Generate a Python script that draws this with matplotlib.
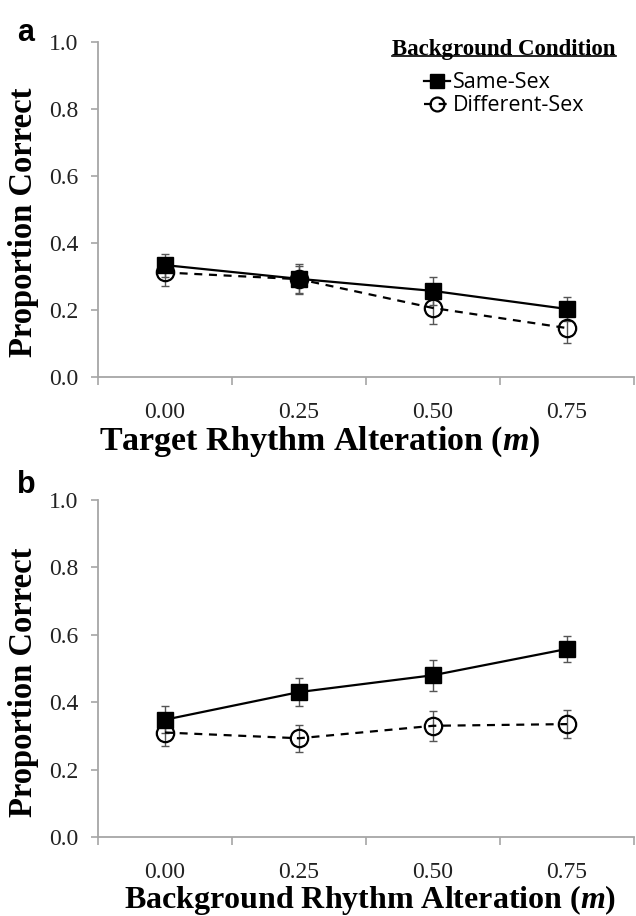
import numpy as np
import matplotlib.pyplot as plt
from matplotlib.lines import Line2D

plt.rcParams['mathtext.fontset'] = 'custom'
plt.rcParams['mathtext.rm'] = 'Liberation Serif'
plt.rcParams['mathtext.bf'] = 'Liberation Serif:bold'
plt.rcParams['mathtext.bfit'] = 'Liberation Serif:italic:bold'

levels = ['0.00', '0.25', '0.50', '0.75']

# panel a: target rhythm alteration
a_same = [0.334, 0.293, 0.257, 0.203]
a_same_err = [0.034, 0.045, 0.043, 0.036]
a_diff = [0.312, 0.292, 0.206, 0.146]
a_diff_err = [0.041, 0.040, 0.048, 0.045]

# panel b: background rhythm alteration
b_same = [0.348, 0.430, 0.480, 0.558]
b_same_err = [0.040, 0.042, 0.046, 0.038]
b_diff = [0.310, 0.293, 0.330, 0.335]
b_diff_err = [0.040, 0.040, 0.045, 0.042]

W, H = 636, 916
fig = plt.figure(figsize=(W / 100, H / 100), dpi=100)
ax_a = fig.add_axes([98 / W, 1 - 377 / H, 536 / W, 335 / H])
ax_b = fig.add_axes([98 / W, 1 - 837 / H, 536 / W, 337 / H])

axis_grey = '#a6a6a6'
serif = 'Liberation Serif'


def draw(ax, same, same_err, diff, diff_err):
    x = np.arange(len(levels))
    ax.errorbar(x, diff, yerr=diff_err, fmt='none', ecolor='#555555',
                elinewidth=1, capsize=3, capthick=1, zorder=2)
    ax.errorbar(x, same, yerr=same_err, fmt='none', ecolor='#555555',
                elinewidth=1, capsize=3, capthick=1, zorder=2)
    ax.plot(x, diff, ls=(0, (3.6, 3)), color='black', lw=1.6, marker='o',
            ms=12.5, mfc='none', mec='black', mew=1.6, zorder=3,
            label='Different-Sex')
    ax.plot(x, same, '-', color='black', lw=1.6, marker='s', ms=12,
            mfc='black', mec='black', zorder=4, label='Same-Sex')

    ax.set_xlim(-0.5, len(levels) - 0.5)
    ax.set_ylim(0, 1)
    for s in ['top', 'right']:
        ax.spines[s].set_visible(False)
    for s in ['left', 'bottom']:
        ax.spines[s].set_color(axis_grey)
        ax.spines[s].set_linewidth(1.3)

    ax.set_yticks(np.arange(0, 1.01, 0.2))
    ax.set_yticklabels(['%.1f' % v for v in np.arange(0, 1.01, 0.2)],
                       family=serif, fontsize=17, color='#222222')
    ax.tick_params(axis='y', direction='out', length=5, width=1.2,
                   color=axis_grey, pad=9)

    ax.set_xticks(np.arange(-0.5, len(levels), 1))
    ax.set_xticklabels([])
    ax.set_xticks(x, minor=True)
    ax.set_xticklabels(levels, minor=True, family=serif, fontsize=17,
                       color='#222222')
    ax.tick_params(axis='x', which='major', direction='out', length=6,
                   width=1.2, color=axis_grey)
    ax.tick_params(axis='x', which='minor', length=0, pad=18)


draw(ax_a, a_same, a_same_err, a_diff, a_diff_err)
draw(ax_b, b_same, b_same_err, b_diff, b_diff_err)

lab = dict(family=serif, weight='bold')
fig.text(320 / W, 1 - 450 / H, r'Target Rhythm Alteration ($\mathbfit{m}$)',
         ha='center', va='baseline', fontsize=24.5, **lab)
fig.text(370 / W, 1 - 908 / H, r'Background Rhythm Alteration ($\mathbfit{m}$)',
         ha='center', va='baseline', fontsize=23, **lab)
fig.text(24 / W, 1 - 222 / H, 'Proportion Correct', rotation=90,
         ha='center', va='center', fontsize=23.5, **lab)
fig.text(24 / W, 1 - 682 / H, 'Proportion Correct', rotation=90,
         ha='center', va='center', fontsize=23.5, **lab)

fig.text(17 / W, 1 - 41 / H, 'a', family='Liberation Sans', weight='bold',
         fontsize=22, va='baseline')
fig.text(17 / W, 1 - 493 / H, 'b', family='Liberation Sans', weight='bold',
         fontsize=22, va='baseline')

handles, labels = ax_a.get_legend_handles_labels()
leg = ax_a.legend(handles[::-1], labels[::-1], loc='upper center',
                  bbox_to_anchor=((504 - 98) / 536, (377 - 39) / 335),
                  frameon=False, title='Background Condition',
                  handlelength=1.2, handletextpad=0.15, markerscale=0.8,
                  borderpad=0, borderaxespad=0, labelspacing=0.08,
                  prop={'family': 'Open Sans', 'size': 15.5})
leg.get_title().set_fontproperties(
    {'family': serif, 'weight': 'bold', 'size': 16.5})
leg._legend_box.sep = 9

fig.canvas.draw()
bb = leg.get_title().get_window_extent().transformed(fig.transFigure.inverted())
uy = bb.y0 + 0.2 * bb.height
fig.add_artist(Line2D([bb.x0, bb.x1], [uy, uy], color='black', lw=1.2,
                      transform=fig.transFigure))

fig.savefig('out.png', dpi=100)
plt.close(fig)
